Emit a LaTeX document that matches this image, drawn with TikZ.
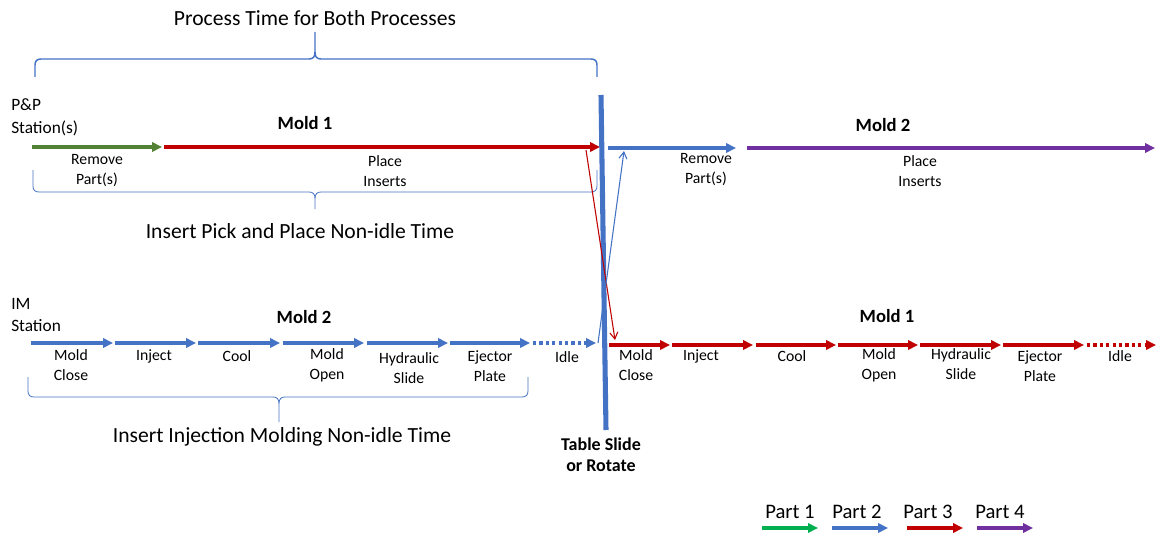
\documentclass[tikz,border=0pt]{standalone}
\usepackage{fontspec}
\setmainfont{Carlito}
\usetikzlibrary{arrows.meta}
\definecolor{ppgreen}{HTML}{548235}
\definecolor{partgreen}{HTML}{00B050}
\definecolor{partblue}{HTML}{4472C4}
\definecolor{partred}{HTML}{C00000}
\definecolor{partpurple}{HTML}{7030A0}

\begin{document}
\begin{tikzpicture}[x=0.75pt,y=-0.75pt,seg/.style={line width=2.3pt,-{Triangle[length=7.5pt,width=7pt]}},idle/.style={seg,dash pattern=on 2.4pt off 2.4pt},cross/.style={line width=0.8pt,-{Straight Barb[length=5pt,width=6pt]}},bigbrace/.style={draw=partblue,line width=1.1pt},smallbrace/.style={draw=partblue,line width=0.6pt},tag/.style={font=\fontsize{11.8}{15}\selectfont,align=center,inner sep=0pt},mold/.style={font=\fontsize{14}{17}\selectfont\bfseries,inner sep=0pt},caption/.style={font=\fontsize{16.2}{19}\selectfont,inner sep=0pt},station/.style={font=\fontsize{13}{17}\selectfont,align=left,inner sep=0pt,anchor=west},legend/.style={font=\fontsize{15.5}{18}\selectfont,inner sep=0pt}]
\path[use as bounding box,fill=white] (0,0) rectangle (1156,535);
\coordinate (pp0) at (32,147);
\coordinate (pp1) at (162,147);
\coordinate (pp2) at (164,147);
\coordinate (pp3) at (600,147);
\coordinate (pp4) at (608,148);
\coordinate (pp5) at (736,148);
\coordinate (pp6) at (747,148);
\coordinate (pp7) at (1155,148);
\coordinate (im0) at (31,343);
\coordinate (im1) at (113,343);
\coordinate (im2) at (115,343);
\coordinate (im3) at (196,343);
\coordinate (im4) at (198,343);
\coordinate (im5) at (280,343);
\coordinate (im6) at (283,343);
\coordinate (im7) at (364,343);
\coordinate (im8) at (367,343);
\coordinate (im9) at (448,343);
\coordinate (im10) at (450,343);
\coordinate (im11) at (530,343);
\coordinate (im12) at (533,343);
\coordinate (im13) at (596,343);
\coordinate (mi0) at (609,345);
\coordinate (mi1) at (670,345);
\coordinate (mi2) at (672,345);
\coordinate (mi3) at (753,345);
\coordinate (mi4) at (756,345);
\coordinate (mi5) at (836,345);
\coordinate (mi6) at (838,345);
\coordinate (mi7) at (918,345);
\coordinate (mi8) at (920,345);
\coordinate (mi9) at (1001,345);
\coordinate (mi10) at (1003,345);
\coordinate (mi11) at (1084,345);
\coordinate (mi12) at (1087,345);
\coordinate (mi13) at (1156,345);
\coordinate (bartop) at (601,95);
\coordinate (barbot) at (606,430);
\coordinate (redtop) at (586,150);
\coordinate (redbot) at (615,340);
\coordinate (bluebot) at (598,343);
\coordinate (bluetop) at (624,151);
\node[caption] (proctime) at (315,18) {Process Time for Both Processes};
\draw[bigbrace] (35,77) -- (35,65) .. controls (35,61) and (37,59) .. (41,59) -- (309,59) .. controls (313,59) and (315,57) .. (315,52) -- (315,32) -- (315,52) .. controls (315,57) and (317,59) .. (321,59) -- (591,59) .. controls (595,59) and (597,61) .. (597,65) -- (597,77);
\node[station] (ppstation) at (11,117) {P\&P\\Station(s)};
\node[mold] (ppmold1) at (305,123) {Mold 1};
\node[mold] (ppmold2) at (883,125) {Mold 2};
\draw[seg,ppgreen] (pp0) -- (pp1);
\draw[seg,partred] (pp2) -- (pp3);
\draw[seg,partblue] (pp4) -- (pp5);
\draw[seg,partpurple] (pp6) -- (pp7);
\node[tag] (ppremove1) at (97,171) {Remove\\Part(s)};
\node[tag] (ppplace1) at (385,171) {Place\\Inserts};
\node[tag] (ppremove2) at (706,170) {Remove\\Part(s)};
\node[tag] (ppplace2) at (920,171) {Place\\Inserts};
\draw[smallbrace] (33,170) -- (33,186) .. controls (33,190) and (35,192) .. (39,192) -- (309,192) .. controls (313,192) and (315,194) .. (315,199) -- (315,209) -- (315,199) .. controls (315,194) and (317,192) .. (321,192) -- (591,192) .. controls (595,192) and (597,190) .. (597,186) -- (597,170);
\node[caption] (ppbusy) at (300,231) {Insert Pick and Place Non-idle Time};
\node[station] (imstation) at (11,315) {IM\\Station};
\node[mold] (immold2) at (304,317) {Mold 2};
\node[mold] (immold1) at (887,316) {Mold 1};
\draw[seg,partblue] (im0) -- (im1);
\draw[seg,partblue] (im2) -- (im3);
\draw[seg,partblue] (im4) -- (im5);
\draw[seg,partblue] (im6) -- (im7);
\draw[seg,partblue] (im8) -- (im9);
\draw[seg,partblue] (im10) -- (im11);
\draw[idle,partblue] (im12) -- (im13);
\draw[seg,partred] (mi0) -- (mi1);
\draw[seg,partred] (mi2) -- (mi3);
\draw[seg,partred] (mi4) -- (mi5);
\draw[seg,partred] (mi6) -- (mi7);
\draw[seg,partred] (mi8) -- (mi9);
\draw[seg,partred] (mi10) -- (mi11);
\draw[idle,partred] (mi12) -- (mi13);
\node[tag] (imclose2) at (71,365) {Mold\\Close};
\node[tag] (iminject2) at (154,356) {Inject};
\node[tag] (imcool2) at (237,356) {Cool};
\node[tag] (imopen2) at (327,365) {Mold\\Open};
\node[tag] (imslide2) at (409,368) {Hydraulic\\Slide};
\node[tag] (imeject2) at (490,366) {Ejector\\Plate};
\node[tag] (imidle2) at (567,357) {Idle};
\node[tag] (imclose1) at (636,365) {Mold\\Close};
\node[tag] (iminject1) at (701,356) {Inject};
\node[tag] (imcool1) at (792,356) {Cool};
\node[tag] (imopen1) at (879,365) {Mold\\Open};
\node[tag] (imslide1) at (961,364) {Hydraulic\\Slide};
\node[tag] (imeject1) at (1040,366) {Ejector\\Plate};
\node[tag] (imidle1) at (1120,356) {Idle};
\draw[smallbrace] (28,377) -- (28,391) .. controls (28,395) and (30,397) .. (34,397) -- (273,397) .. controls (277,397) and (279,399) .. (279,404) -- (279,422) -- (279,404) .. controls (279,399) and (281,397) .. (285,397) -- (522,397) .. controls (526,397) and (528,395) .. (528,391) -- (528,377);
\node[caption] (imbusy) at (282,437) {Insert Injection Molding Non-idle Time};
\draw[partblue,line width=3.8pt] (bartop) -- (barbot);
\draw[cross,partred] (redtop) -- (redbot);
\draw[cross,partblue] (bluebot) -- (bluetop);
\node[mold,align=center,font=\fontsize{13.5}{16}\selectfont\bfseries] (table) at (601,455) {Table Slide\\or Rotate};
\node[legend] (part1) at (790,512) {Part 1};
\node[legend] (part2) at (857,512) {Part 2};
\node[legend] (part3) at (928,512) {Part 3};
\node[legend] (part4) at (1000,512) {Part 4};
\coordinate (lg0) at (762,528);
\coordinate (lg1) at (818,528);
\coordinate (lg2) at (832,528);
\coordinate (lg3) at (888,528);
\coordinate (lg4) at (907,528);
\coordinate (lg5) at (963,528);
\coordinate (lg6) at (977,528);
\coordinate (lg7) at (1033,528);
\draw[seg,partgreen] (lg0) -- (lg1);
\draw[seg,partblue] (lg2) -- (lg3);
\draw[seg,partred] (lg4) -- (lg5);
\draw[seg,partpurple] (lg6) -- (lg7);
\end{tikzpicture}
\end{document}
